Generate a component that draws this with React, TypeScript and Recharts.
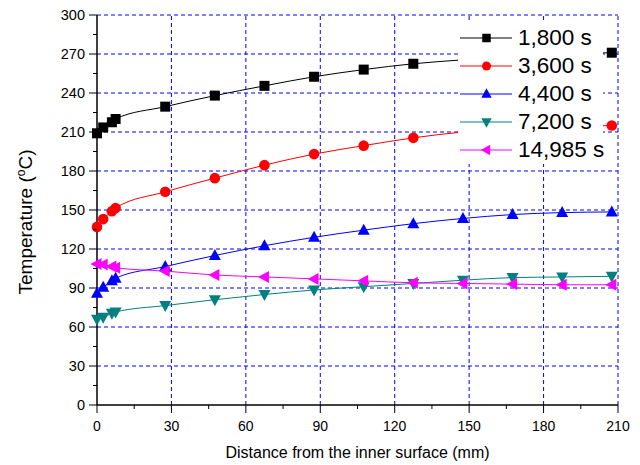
import { LineChart, Line, XAxis, YAxis, ReferenceLine } from 'recharts';

const distance = [0, 2.5, 6, 7.5, 27.5, 47.5, 67.5, 87.5, 107.5, 127.5, 147.5, 167.5, 187.5, 207.5];
const t1800 = [209, 213.5, 217.5, 220, 229.5, 238, 245.5, 252.5, 258, 262.5, 265.5, 268, 270, 271];
const t3600 = [137, 143, 149, 151.5, 164, 174.5, 184.5, 193, 199.5, 205.5, 210, 212.5, 214, 215];
const t4400 = [86, 90.5, 95.5, 97.5, 106.5, 115, 122.5, 129, 134.5, 139.5, 143.5, 146.5, 148, 148.5];
const t7200 = [66, 67.5, 70.5, 71.5, 76.5, 81, 85, 88.5, 91, 93.5, 96, 98, 98.5, 99];
const t14985 = [108.5, 108, 106.5, 105.5, 103, 100, 98.5, 97, 95.5, 94, 93.5, 93, 92.5, 92.5];

const xTicks = [0, 15, 30, 45, 60, 75, 90, 105, 120, 135, 150, 165, 180, 195, 210];
const yTicks = [0, 15, 30, 45, 60, 75, 90, 105, 120, 135, 150, 165, 180, 195, 210, 225, 240, 255, 270, 285, 300];
const xGrid = [30, 60, 90, 120, 150, 180, 210];
const yGrid = [30, 60, 90, 120, 150, 180, 210, 240, 270, 300];

const FONT = 'Arial, "Liberation Sans", sans-serif';
const GRID = '#0000ff';

const series = [
  { key: 's1800', name: '1,800 s', values: t1800, color: '#000000', shape: 'square' },
  { key: 's3600', name: '3,600 s', values: t3600, color: '#ff0000', shape: 'circle' },
  { key: 's4400', name: '4,400 s', values: t4400, color: '#0000ff', shape: 'up' },
  { key: 's7200', name: '7,200 s', values: t7200, color: '#008080', shape: 'down' },
  { key: 's14985', name: '14,985 s', values: t14985, color: '#ff00ff', shape: 'left' },
];

const data = distance.map((d, i) => {
  const row: Record<string, number> = { d };
  series.forEach((s) => {
    row[s.key] = s.values[i];
  });
  return row;
});

function Marker({ cx, cy, shape, color, k = 1 }: { cx: number; cy: number; shape: string; color: string; k?: number }) {
  const r = 5.5 * k;
  const h = 5 * k;
  if (shape === 'square') return <rect x={cx - h} y={cy - h} width={2 * h} height={2 * h} fill={color} />;
  if (shape === 'circle') return <circle cx={cx} cy={cy} r={5.3 * k} fill={color} />;
  if (shape === 'up')
    return <polygon points={`${cx},${cy - r - 1} ${cx - r - 0.5},${cy + r - 1} ${cx + r + 0.5},${cy + r - 1}`} fill={color} />;
  if (shape === 'down')
    return <polygon points={`${cx},${cy + r + 1} ${cx - r - 0.5},${cy - r + 1} ${cx + r + 0.5},${cy - r + 1}`} fill={color} />;
  return <polygon points={`${cx - r - 1},${cy} ${cx + r - 1},${cy - r - 0.5} ${cx + r - 1},${cy + r + 0.5}`} fill={color} />;
}

const XTick = (props: any) => {
  const { x, y, payload } = props;
  const major = payload.value % 30 === 0;
  return (
    <g>
      <line x1={x} x2={x} y1={y} y2={y + (major ? 8 : 4)} stroke="#000" />
      {major && (
        <text x={x} y={y + 26} textAnchor="middle" fontSize={14} fontFamily={FONT} fill="#000">
          {payload.value}
        </text>
      )}
    </g>
  );
};

const YTick = (props: any) => {
  const { x, y, payload } = props;
  const major = payload.value % 30 === 0;
  return (
    <g>
      <line x1={x} x2={x - (major ? 8 : 4)} y1={y} y2={y} stroke="#000" />
      {major && (
        <text x={x - 12} y={y + 5} textAnchor="end" fontSize={14.5} fontFamily={FONT} fill="#000">
          {payload.value}
        </text>
      )}
    </g>
  );
};

const LegendBox = () => (
  <div
    style={{
      position: 'absolute',
      left: 458,
      top: 20,
      width: 143,
      background: '#fff',
      padding: '4px 0 1px 2px',
      fontFamily: FONT,
    }}
  >
    {series.map((s) => (
      <div key={s.key} style={{ display: 'flex', alignItems: 'center', height: 27.9 }}>
        <svg width={58} height={20} style={{ flex: 'none' }}>
          <line x1={0} x2={52} y1={10} y2={10} stroke={s.color} strokeWidth={1} />
          <Marker cx={26.5} cy={10} shape={s.shape} color={s.color} k={0.85} />
        </svg>
        <span style={{ fontSize: 22.5, color: '#000', whiteSpace: 'nowrap' }}>{s.name}</span>
      </div>
    ))}
  </div>
);

export default function App() {
  return (
    <div style={{ position: 'absolute', left: 0, top: 0, width: 640, height: 465, background: '#fff' }}>
      <LineChart width={640} height={465} data={data} margin={{ top: 15, right: 22, bottom: 0, left: 0 }}>
        {xGrid.map((v) => (
          <ReferenceLine key={'x' + v} x={v} stroke={GRID} strokeDasharray="4 3" strokeWidth={1} />
        ))}
        {yGrid.map((v) => (
          <ReferenceLine key={'y' + v} y={v} stroke={GRID} strokeDasharray="4 3" strokeWidth={1} />
        ))}
        <XAxis
          dataKey="d"
          type="number"
          domain={[0, 210]}
          ticks={xTicks}
          interval={0}
          height={60}
          tickLine={false}
          tickSize={0}
          tickMargin={0}
          tick={<XTick />}
          axisLine={{ stroke: '#000', strokeWidth: 1.5 }}
          label={{
            content: ({ viewBox }: any) => (
              <text
                x={viewBox.x + viewBox.width / 2}
                y={viewBox.y + 53}
                textAnchor="middle"
                fontSize={16}
                fontFamily={FONT}
                fill="#000"
              >
                Distance from the inner surface (mm)
              </text>
            ),
          }}
        />
        <YAxis
          type="number"
          domain={[0, 300]}
          ticks={yTicks}
          interval={0}
          width={97}
          tickLine={false}
          tickSize={0}
          tickMargin={0}
          tick={<YTick />}
          axisLine={{ stroke: '#000', strokeWidth: 1.5 }}
          label={{
            content: ({ viewBox }: any) => {
              const cx = viewBox.x + 32;
              const cy = viewBox.y + viewBox.height / 2 + 12;
              return (
                <text
                  x={cx}
                  y={cy}
                  transform={`rotate(-90 ${cx} ${cy})`}
                  textAnchor="middle"
                  fontSize={19}
                  fontFamily={FONT}
                  fill="#000"
                >
                  Temperature (
                  <tspan baselineShift="super" fontSize={12}>
                    o
                  </tspan>
                  C)
                </text>
              );
            },
          }}
        />
        {series.map((s) => (
          <Line
            key={s.key}
            dataKey={s.key}
            name={s.name}
            type="monotone"
            stroke={s.color}
            strokeWidth={1}
            isAnimationActive={false}
            dot={(p: any) => <Marker key={s.key + p.index} cx={p.cx} cy={p.cy} shape={s.shape} color={s.color} />}
            activeDot={false}
          />
        ))}
      </LineChart>
      <LegendBox />
    </div>
  );
}
